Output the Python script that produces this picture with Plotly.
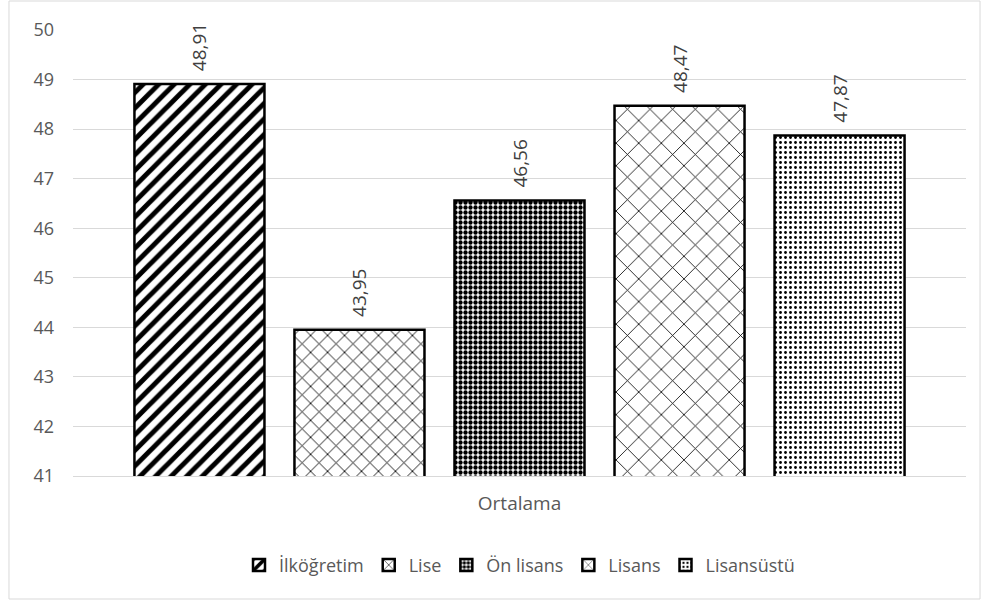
import plotly.graph_objects as go

categories = ["Ortalama"]
series_names = ["İlköğretim", "Lise", "Ön lisans", "Lisans", "Lisansüstü"]
values = [48.91, 43.95, 46.56, 48.47, 47.87]
y_ticks = [41, 42, 43, 44, 45, 46, 47, 48, 49, 50]

patterns = [
    dict(shape="/", size=11, solidity=0.45),
    dict(shape="x", size=12, solidity=0.14),
    dict(shape=".", size=5, solidity=0.6),
    dict(shape="x", size=16, solidity=0.1),
    dict(shape=".", size=5, solidity=0.25),
]

FONT = "Open Sans"
GREY = "#595959"

fig = go.Figure()
for name, v, p in zip(series_names, values, patterns):
    fig.add_trace(go.Bar(
        name=name, x=categories, y=[v],
        marker=dict(color="white", line=dict(color="black", width=2.5),
                    pattern=dict(fgcolor="black", bgcolor="white", fillmode="replace",
                                 fgopacity=1, **p)),
        text=[v], texttemplate="\u00a0\u00a0%{y:.2f}", textposition="outside", textangle=-90,
        textfont=dict(family=FONT, size=19, color="#404040"),
        cliponaxis=False,
    ))

fig.update_layout(
    width=987, height=601,
    margin=dict(l=73, r=21, t=30, b=125),
    paper_bgcolor="white", plot_bgcolor="white",
    barmode="group", bargap=0.104, bargroupgap=0.1875,
    separators=",.",
    font=dict(family=FONT, color=GREY, size=18),
    showlegend=True,
    legend=dict(orientation="h", x=0.5, xanchor="center", y=-0.2, yanchor="middle",
                font=dict(family=FONT, size=18, color=GREY), itemwidth=30,
                traceorder="normal"),
    yaxis=dict(range=[41, 50], tickvals=y_ticks, showgrid=True, gridcolor="#d9d9d9",
               gridwidth=1, zeroline=False, showline=False, ticks="",
               tickfont=dict(family=FONT, size=18, color=GREY), ticklabelstandoff=18),
    xaxis=dict(showline=True, linecolor="#d9d9d9", linewidth=1, ticks="",
               tickfont=dict(family=FONT, size=19, color=GREY), ticklabelstandoff=10),
    shapes=[dict(type="rect", xref="paper", yref="paper",
                 x0=-0.0717, x1=1.0157, y0=-0.2758, y1=1.065,
                 line=dict(color="#d9d9d9", width=1), fillcolor="rgba(0,0,0,0)", layer="below")],
)

fig.write_html("out.html", config={"displayModeBar": False},
               post_script="document.body.style.margin='0px';")
